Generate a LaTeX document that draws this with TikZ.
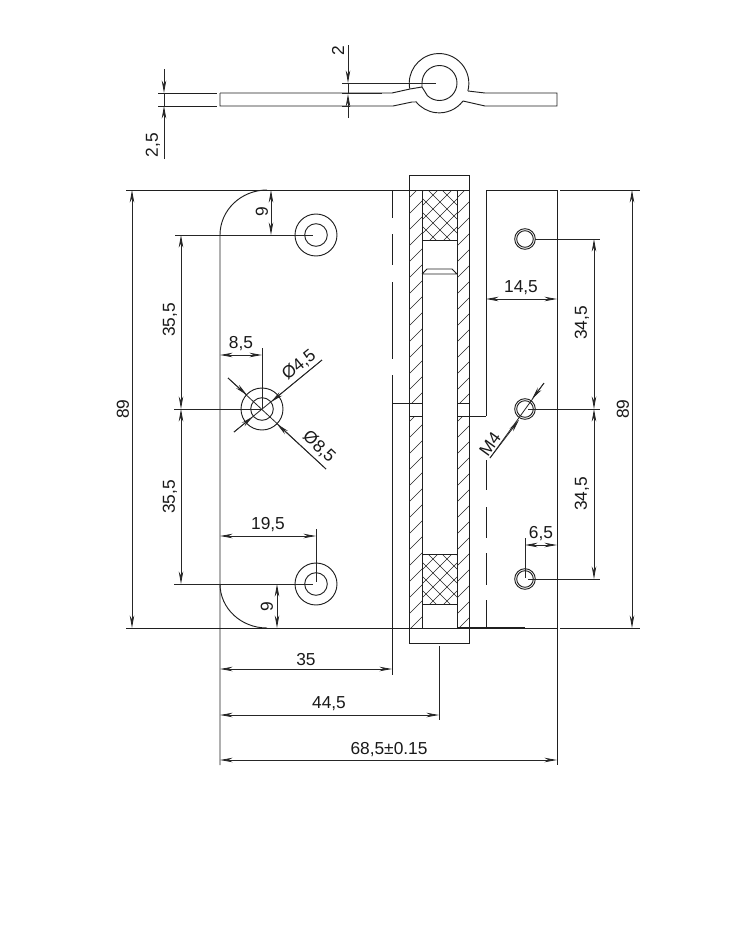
\documentclass[tikz,border=0pt]{standalone}
\usepackage{fontspec}
\setmainfont{Liberation Sans}
\usetikzlibrary{arrows.meta}
\tikzset{
  line/.style={line width=0.7pt,black!88},
  thin line/.style={line width=0.6pt,black!85},
  hatchline/.style={line width=0.5pt,black!85},
  dim/.style={line width=0.6pt,black!85,{Stealth[length=9.5pt,width=3.4pt]}-{Stealth[length=9.5pt,width=3.4pt]}},
  tipend/.style={line width=0.6pt,black!85,-{Stealth[length=9.5pt,width=3.4pt]}},
  lab/.style={font=\fontsize{13pt}{14pt}\selectfont,inner sep=0pt,text=black!90},
}
\begin{document}
\begin{tikzpicture}[x=0.75pt,y=-0.75pt]
\useasboundingbox (0,0) rectangle (740,932);
% top view
\draw[line] (158,93) -- (217,93) (158,106) -- (217,106);
\draw[line] (220,93) -- (392,93) -- (410,89) -- (422,87) -- (422,83)
   arc[start angle=180,end angle=494,radius=17.5] -- (422,87);
\draw[line] (409.7,88.5) arc[start angle=170,end angle=374.5,radius=29.8];
\draw[line] (468,91) -- (485,93) -- (557,93) -- (557,106) -- (485,106) -- (463,101);
\draw[line] (463,101) arc[start angle=37,end angle=142,radius=29.8];
\draw[line] (415.5,102) -- (412,102) -- (393,106) -- (220,106) -- (220,93);
% top dims
\draw[thin line] (342,83) -- (436,83) (342,93) -- (382,93) (342,106) -- (350,106);
\draw[tipend] (348,45) -- (348,83);
\draw[tipend] (348,118) -- (348,94);
\draw[thin line] (348,83) -- (348,94);
\draw[tipend] (164,69) -- (164,93);
\draw[tipend] (164,159) -- (164,106);
\draw[thin line] (164,93) -- (164,106);
\node[lab,rotate=90] (t2) at (338,51) {2};
\node[lab,rotate=90] (t25) at (153,145) {2,5};
% left plate
\draw[line] (126,190) -- (469,190) (486,190) -- (557,190) (560,190) -- (640,190);
\draw[line] (126,628) -- (557,628) (560,628) -- (640,628);
\draw[line] (267,190) arc[start angle=-90,end angle=-180,x radius=47,y radius=45] -- (220,584) -- (220,765);
\draw[line] (220,584) arc[start angle=-180,end angle=-270,x radius=47,y radius=44];
\draw[line] (392.5,190) -- (392.5,218) (392.5,234) -- (392.5,265) (392.5,282) -- (392.5,359) (392.5,375) -- (392.5,675);
\foreach \n/\cx/\cy in {a/316/235,b/262/409,c/316/584}{
  \draw[line] (\cx,\cy) circle[radius=21];
  \draw[line] (\cx,\cy) circle[radius=11.3];
}
% knuckle
\draw[line] (409,190) -- (409,175) -- (469,175) -- (469,643) -- (409,643) -- (409,190);
\draw[line] (422,190) -- (422,628) (457,190) -- (457,628);
\begin{scope}
  \clip (409,190) rectangle (422,403) (457,190) rectangle (469,403)
        (409,416) rectangle (422,628) (457,416) rectangle (469,628);
  \foreach \k in {0,1,...,34}{
    \draw[hatchline] (400,{191+\k*16}) -- (480,{111+\k*16});
  }
\end{scope}
\draw[line] (392,403) -- (422,403) (457,403) -- (469,403);
\draw[line] (409,416) -- (422,416) (457,416) -- (486,416);
% crosshatch
\begin{scope}
  \clip (422,190) rectangle (457,240) (422,554) rectangle (457,604);
  \foreach \k in {-6,...,50}{
    \draw[hatchline] (410,{190+\k*14}) -- (470,{130+\k*14});
    \draw[hatchline] (410,{130+\k*14}) -- (470,{190+\k*14});
  }
\end{scope}
\draw[line] (422,240) -- (457,240) (422,554) -- (457,554) (422,604) -- (457,604);
\draw[line] (422,274) -- (457,274) (422,274) -- (427,269) -- (452,269) -- (457,274);
% right plate
\draw[line] (486,190) -- (486,416) (486,460) -- (486,490) (486,507) -- (486,538) (486,553) -- (486,585) (486,600) -- (486,628);
\draw[line] (557,190) -- (557,765);
\draw[line,line width=1.1pt] (457,628) -- (525,628);
\foreach \n/\cy in {a/239,b/409,c/579}{
  \draw[line] (525,\cy) circle[radius=10.3];
  \draw[line] (525,\cy) circle[radius=8.3];
}
% extension lines
\draw[thin line] (175,235) -- (313,235) (174,409) -- (262,409) (174,584) -- (313,584);
\draw[thin line] (535,239) -- (600,239) (528,409) -- (600,409) (528,579) -- (600,579);
\draw[thin line] (262,348) -- (262,409) (316,529) -- (316,582) (525,538) -- (525,578) (439,646) -- (439,720);
% dimensions
\draw[dim] (132,190) -- (132,628);
\node[lab,rotate=90] (l89a) at (123,409) {89};
\draw[dim] (632,190) -- (632,628);
\node[lab,rotate=90] (l89b) at (623,409) {89};
\draw[dim] (181,235) -- (181,409);
\draw[dim] (181,409) -- (181,584);
\node[lab,rotate=90] (l355a) at (170,320) {35,5};
\node[lab,rotate=90] (l355b) at (170,497) {35,5};
\draw[dim] (594,239) -- (594,409);
\draw[dim] (594,409) -- (594,579);
\node[lab,rotate=90] (l345a) at (582,323) {34,5};
\node[lab,rotate=90] (l345b) at (582,494) {34,5};
\draw[dim] (271,190) -- (271,235);
\node[lab,rotate=90] (l9a) at (262,212) {9};
\draw[dim] (277,584) -- (277,628);
\node[lab,rotate=90] (l9b) at (267,607) {9};
\draw[dim] (220,355) -- (262,355);
\node[lab] (l85) at (241,344) {8,5};
\draw[dim] (220,536) -- (316,536);
\node[lab] (l195) at (268,525) {19,5};
\draw[dim] (220,669) -- (392,669);
\node[lab] (l35) at (306,660) {35};
\draw[dim] (220,715) -- (439,715);
\node[lab] (l445) at (329,704) {44,5};
\draw[dim] (220,760) -- (557,760);
\node[lab] (l685) at (389,750) {68,5±0.15};
\draw[dim] (486,299) -- (557,299);
\node[lab] (l145) at (521,288) {14,5};
\draw[dim] (525,545) -- (557,545);
\node[lab] (l65) at (541,534) {6,5};
% diameters
\draw[thin line] (234,432) -- (322,360);
\draw[tipend] (322,360) -- (271,402);
\draw[tipend] (234,432) -- (253,416.5);
\node[lab,rotate=39] (d45) at (299,365) {Ø4,5};
\draw[thin line] (228,378) -- (326,469);
\draw[tipend] (228,378) -- (247,395);
\draw[tipend] (326,469) -- (277,424);
\node[lab,rotate=-43] (d85) at (319,447) {Ø8,5};
\draw[thin line] (490,458) -- (544,383);
\draw[tipend] (490,458) -- (519,420);
\draw[tipend] (544,383) -- (532,399);
\node[lab,rotate=54] (m4) at (490,444) {M4};
\end{tikzpicture}
\end{document}
